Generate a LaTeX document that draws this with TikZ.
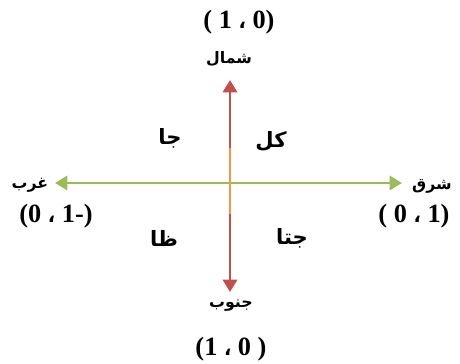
\documentclass[tikz,border=0pt]{standalone}
\usepackage{fontspec}
\setmainfont{Liberation Serif}
\newfontfamily\arabicfont[Script=Arabic]{DejaVu Sans}
\newfontfamily\commafont{DejaVu Sans}
\TeXXeTstate=1
\usetikzlibrary{arrows.meta}

\begin{document}
\begin{tikzpicture}[
        x=0.02cm, y=-0.02cm,
        coord/.style={font=\fontsize{15}{17}\selectfont\bfseries, inner sep=0pt},
        dir/.style={font=\arabicfont\fontsize{9}{11}\selectfont\bfseries, inner sep=0pt},
        quad/.style={font=\arabicfont\fontsize{12}{14}\selectfont\bfseries, inner sep=0pt},
        axis/.style={line width=1.7pt, {Triangle[length=7pt,width=8pt]}-{Triangle[length=7pt,width=8pt]}}
    ]
    \definecolor{axisgreen}{HTML}{9BBB59}
    \definecolor{axisred}{HTML}{C0504D}
    \definecolor{axisorange}{HTML}{F79646}
    \newcommand{\acomma}{{\commafont\fontsize{11}{13}\selectfont ،}}
    \useasboundingbox (0,0) rectangle (460,364);

    % Axis ends
    \coordinate (west) at (55,183);
    \coordinate (east) at (402,183);
    \coordinate (north) at (230,80);
    \coordinate (south) at (230,292);
    \coordinate (mida) at (230,148);
    \coordinate (midb) at (230,214);

    % Axes
    \draw[axis, axisgreen] (west) -- (east);
    \draw[axis, axisred] (north) -- (south);
    \draw[line width=1.7pt, axisorange] (mida) -- (midb);

    % Direction names
    \node[dir] (nname) at (229,59) {\beginR شمال\endR};
    \node[dir] (sname) at (231,306) {\beginR جنوب\endR};
    \node[dir] (wname) at (30,185) {\beginR غرب\endR};
    \node[dir] (ename) at (432,186) {\beginR شرق\endR};

    % Coordinates
    \node[coord] (ncoord) at (239,22) {( 1 \acomma\ 0)};
    \node[coord] (scoord) at (231,349) {(1 \acomma\ 0 )};
    \node[coord] (wcoord) at (56,216) {(0 \acomma\ 1-)};
    \node[coord] (ecoord) at (414,216) {( 0 \acomma\ 1)};

    % Quadrants
    \node[quad] (qa) at (170,138) {\beginR جا\endR};
    \node[quad] (qb) at (271,141) {\beginR كل\endR};
    \node[quad] (qc) at (164,238) {\beginR ظا\endR};
    \node[quad] (qd) at (292,238) {\beginR جتا\endR};

\end{tikzpicture}
\end{document}
